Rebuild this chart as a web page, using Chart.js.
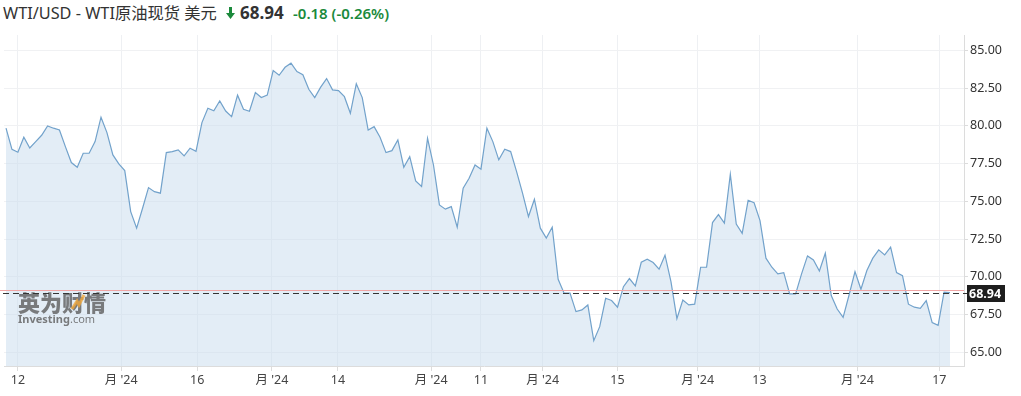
<!DOCTYPE html>
<html>
<head>
<meta charset="utf-8">
<script src="https://cdn.jsdelivr.net/npm/chart.js@4.4.1/dist/chart.umd.min.js"></script>
<style>
  body { margin: 0; background: #fff; width: 1021px; height: 396px; overflow: hidden; position: relative;
         font-family: "Noto Sans", "Noto Sans CJK SC", sans-serif; }
  .t { position: absolute; top: 2px; line-height: 22px; white-space: nowrap; }
  #name { left: 3px; font-size: 16.3px; color: #333; }
  #arrow { position: absolute; left: 226px; top: 7px; }
  #price { left: 240px; font-size: 17px; font-weight: bold; color: #333; }
  #chg { left: 293px; font-size: 15px; font-weight: 600; color: #1b8a3c; }
  #wrap { position: absolute; left: 0; top: 0; width: 1021px; height: 396px; }
</style>
</head>
<body>
<span class="t" id="name">WTI/USD - WTI原油现货 美元</span>
<svg id="arrow" width="9" height="12" viewBox="0 0 9 12"><path d="M3 0h3v6h3L4.5 12 0 6h3z" fill="#1b8a3c"/></svg>
<span class="t" id="price">68.94</span>
<span class="t" id="chg">-0.18 (-0.26%)</span>
<div id="wrap"><canvas id="chart" width="1021" height="396"></canvas></div>
<script>
// valores (cierre por sesion)
const precios = [
  79.85, 78.45, 78.26, 79.25, 78.54, 78.96, 79.38, 80.00, 79.85, 79.73,
  78.63, 77.57, 77.26, 78.19, 78.19, 78.96, 80.58, 79.56, 78.08, 77.48,
  77.04, 74.32, 73.22, 74.54, 75.91, 75.64, 75.54, 78.23, 78.30, 78.41,
  78.01, 78.52, 78.32, 80.22, 81.17, 81.01, 81.66, 80.99, 80.62, 82.04,
  81.11, 80.97, 82.21, 81.88, 82.04, 83.67, 83.36, 83.89, 84.16, 83.60,
  83.40, 82.43, 81.88, 82.57, 83.14, 82.39, 82.34,
  81.94, 80.84, 82.79, 81.88, 79.73, 79.95, 79.25, 78.23, 78.36, 79.07,
  77.26, 77.96, 76.35, 75.98, 79.18, 77.41, 74.76, 74.48, 74.65, 73.28,
  75.87, 76.53, 77.41, 77.13, 79.85, 78.96, 77.75, 78.45, 78.30, 76.97,
  75.54, 73.99, 75.14, 73.22, 72.56, 73.28, 69.83, 68.91, 68.91, 67.69,
  67.80, 68.13, 65.76, 66.69, 68.57, 68.42, 67.98, 69.34, 69.88, 69.39,
  70.96, 71.16,
  70.94, 70.50, 71.43, 69.68, 67.22, 68.46, 68.13, 68.18, 70.63, 70.63,
  73.59, 74.12, 73.55, 76.80, 73.50, 72.88, 75.07, 74.91, 73.72, 71.23,
  70.63, 70.19, 70.27, 68.86, 68.86, 70.19, 71.38, 71.11, 70.38, 71.56,
  68.75, 67.86, 67.31, 68.79, 70.34, 69.17, 70.41, 71.23, 71.78, 71.45,
  71.96, 70.27, 70.07, 68.18, 67.98, 67.91, 68.42, 66.96, 66.78, 68.97,
  68.94
];
// etiquetas del eje X y su posicion (indice de sesion)
const posEtiquetas = [2.0, 19.4, 32.2, 44.8, 55.9, 71.6, 80.0, 90.4, 103.0, 116.5, 126.9, 143.4, 157.2];
const etiquetas = ["12", "月 '24", "16", "月 '24", "14", "月 '24", "11", "月 '24", "15", "月 '24", "13", "月 '24", "17"];
const ticksY = [65, 67.5, 70, 72.5, 75, 77.5, 80, 82.5, 85];
const ultimo = 68.94;
const cierreAnterior = 69.12;

const fuente = '"Noto Sans", "Noto Sans CJK SC", sans-serif';

// lineas de referencia, etiqueta de precio y marca de agua
const extras = {
  id: 'extras',
  afterDatasetsDraw(chart) {
    const { ctx, chartArea: a, scales: { y } } = chart;
    ctx.save();
    // marca de agua
    ctx.globalAlpha = 0.8;
    ctx.fillStyle = '#5e5e5e';
    ctx.font = '900 22px "Noto Sans CJK SC", sans-serif';
    ctx.textBaseline = 'alphabetic';
    ctx.fillText('英为财情', 18, 311);
    ctx.strokeStyle = '#f2a93b';
    ctx.lineWidth = 3;
    ctx.beginPath();
    ctx.moveTo(72, 309); ctx.lineTo(77, 301); ctx.lineTo(79, 305); ctx.lineTo(84, 295);
    ctx.stroke();
    ctx.fillStyle = '#5e5e5e';
    ctx.font = 'bold 11px ' + fuente;
    ctx.fillText('Investing', 18, 323);
    const w = ctx.measureText('Investing').width;
    ctx.font = '11px ' + fuente;
    ctx.fillText('.com', 18 + w, 323);
    ctx.globalAlpha = 1;

    // cierre anterior
    const yr = Math.round(y.getPixelForValue(cierreAnterior)) + 0.5;
    ctx.strokeStyle = '#f0a5a5';
    ctx.lineWidth = 1;
    ctx.beginPath();
    ctx.moveTo(0, yr); ctx.lineTo(a.right, yr);
    ctx.stroke();
    // ultimo precio
    const yp = Math.round(y.getPixelForValue(ultimo)) + 0.5;
    ctx.strokeStyle = '#333';
    ctx.setLineDash([6, 4]);
    ctx.beginPath();
    ctx.moveTo(3, yp); ctx.lineTo(a.right + 4, yp);
    ctx.stroke();
    ctx.setLineDash([]);
    ctx.fillStyle = '#1e1e1e';
    ctx.fillRect(a.right + 3, yp - 8.5, 38, 17);
    ctx.fillStyle = '#fff';
    ctx.font = 'bold 12.5px ' + fuente;
    ctx.textBaseline = 'middle';
    ctx.fillText(ultimo.toFixed(2), a.right + 5, yp + 0.5);
    ctx.restore();
  }
};

new Chart(document.getElementById('chart'), {
  type: 'line',
  data: {
    datasets: [{
      data: precios.map((v, i) => ({ x: i, y: v })),
      borderColor: '#72a2cb',
      borderWidth: 1.2,
      backgroundColor: 'rgba(200,220,238,0.5)',
      fill: 'start',
      pointRadius: 0,
      tension: 0
    }]
  },
  options: {
    responsive: false,
    animation: false,
    events: [],
    layout: { padding: { top: 35, left: 4, right: 0, bottom: 0 } },
    plugins: { legend: { display: false }, tooltip: { enabled: false } },
    scales: {
      x: {
        type: 'linear',
        min: -0.34,
        max: 161.36,
        afterBuildTicks: s => { s.ticks = posEtiquetas.map(v => ({ value: v })); },
        afterFit: s => { s.height = 30; },
        ticks: {
          autoSkip: false,
          maxRotation: 0,
          padding: 2,
          color: '#444',
          font: { family: fuente, size: 12.5 },
          callback: (v, i) => etiquetas[i]
        },
        grid: { color: '#eef0f3', tickLength: 5, tickColor: '#dcdcdc' },
        border: { color: '#dcdcdc' }
      },
      y: {
        position: 'right',
        min: 64.08,
        max: 86.03,
        afterBuildTicks: s => { s.ticks = ticksY.map(v => ({ value: v })); },
        afterFit: s => { s.width = 57; },
        ticks: {
          padding: 2,
          color: '#333',
          font: { family: fuente, size: 12.5 },
          callback: v => v.toFixed(2)
        },
        grid: { color: '#f0f1f3', tickLength: 4, tickColor: '#dcdcdc' },
        border: { color: '#dcdcdc' }
      }
    }
  },
  plugins: [extras]
});
</script>
</body>
</html>
